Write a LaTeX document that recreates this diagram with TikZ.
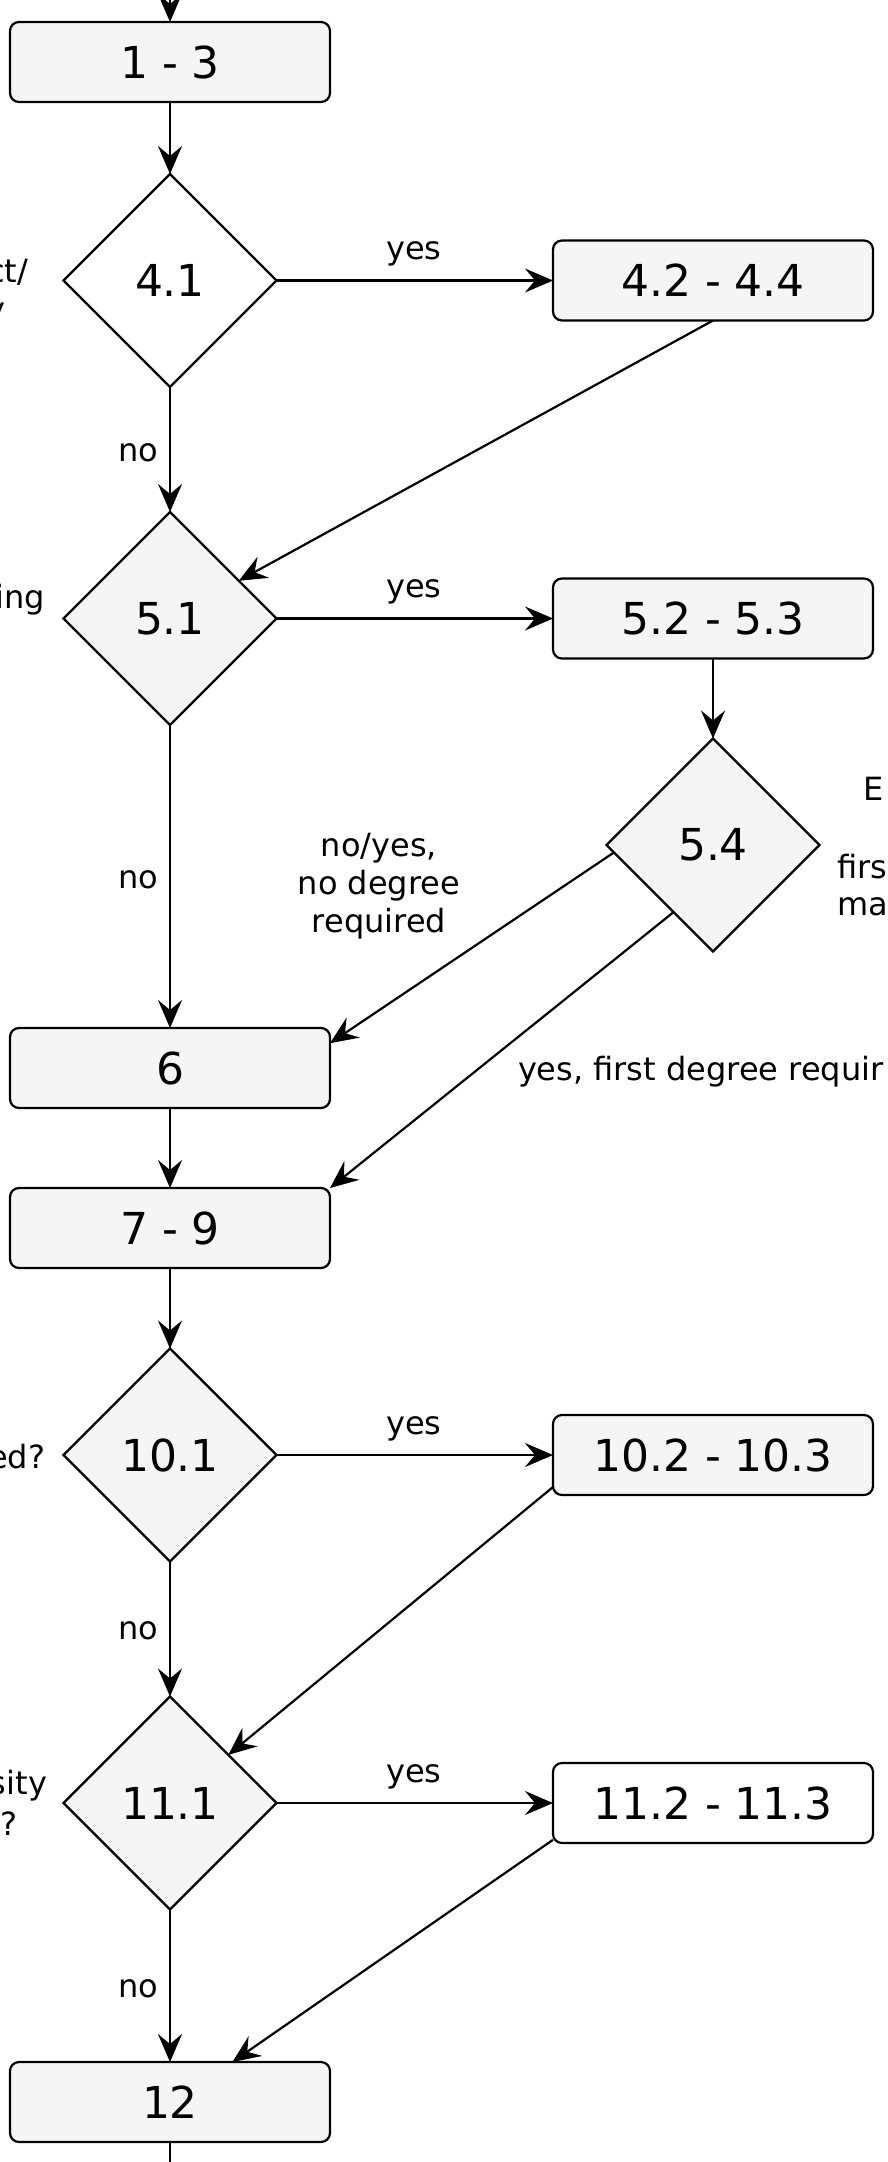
\documentclass[tikz,border=0pt]{standalone}
\usepackage{fontspec}
\setmainfont{DejaVu Sans}
\usetikzlibrary{shapes.geometric,arrows.meta,calc}
\definecolor{boxgray}{HTML}{F5F5F5}
\begin{document}
\begin{tikzpicture}[x=1pt,y=-1pt,
  every node/.style={inner sep=0pt, outer sep=0pt},
  stepbox/.style={draw, line width=2.2pt, rounded corners=9pt, fill=boxgray, minimum width=320pt, minimum height=80pt, font=\fontsize{44}{52}\selectfont},
  whitebox/.style={stepbox, fill=white},
  decision/.style={draw, line width=2.2pt, shape=diamond, aspect=1, minimum width=213pt, minimum height=213pt, fill=boxgray, font=\fontsize{44}{52}\selectfont},
  whitedecision/.style={decision, fill=white},
  conn/.style={line width=2.2pt, -{Stealth[length=28pt,width=24pt,inset=10pt]}},
  plainline/.style={line width=2.2pt},
  lbl/.style={font=\fontsize{32}{38}\selectfont},
]
\useasboundingbox (0,0) rectangle (887,2162);

% nodes
\node[stepbox] (n13) at (170,62) {1 - 3};
\node[whitedecision] (d41) at (170,280.5) {4.1};
\node[stepbox] (n42) at (713,280.5) {4.2 - 4.4};
\node[decision] (d51) at (170,618.5) {5.1};
\node[stepbox] (n52) at (713,618.5) {5.2 - 5.3};
\node[decision] (d54) at (713,845) {5.4};
\node[stepbox] (n6) at (170,1068) {6};
\node[stepbox] (n79) at (170,1228) {7 - 9};
\node[decision] (d101) at (170,1455) {10.1};
\node[stepbox] (n102) at (713,1455) {10.2 - 10.3};
\node[decision] (d111) at (170,1803) {11.1};
\node[whitebox] (n112) at (713,1803) {11.2 - 11.3};
\node[stepbox] (n12) at (170,2102) {12};

\coordinate (top) at (170,-20);
\coordinate (bot) at (170,2180);

% connectors
\draw[conn] (top) -- (n13.north);
\draw[conn] (n13.south) -- (d41.north);
\draw[conn] (d41.east) -- (n42.west);
\draw[conn] (n42.south) -- (d51);
\draw[conn] (d41.south) -- (d51.north);
\draw[conn] (d51.east) -- (n52.west);
\draw[conn] (n52.south) -- (d54.north);
\draw[conn] (d51.south) -- (n6.north);
\draw[conn] ($(d54.west)!0.07!(d54.south)$) -- ($(n6.north east)!0.19!(n6.south east)$);
\draw[conn] ($(d54.west)!0.63!(d54.south)$) -- (n79.north east);
\draw[conn] (n6.south) -- (n79.north);
\draw[conn] (n79.south) -- (d101.north);
\draw[conn] (d101.east) -- (n102.west);
\draw[conn] ($(n102.north west)!0.9!(n102.south west)$) -- (d111);
\draw[conn] (d101.south) -- (d111.north);
\draw[conn] (d111.east) -- (n112.west);
\draw[conn] ($(n112.north west)!0.96!(n112.south west)$) -- ($(n12.north west)!0.695!(n12.north east)$);
\draw[conn] (d111.south) -- (n12.north);
\draw[plainline] (n12.south) -- (bot);

% edge labels
\node[lbl, anchor=base] (y1) at (414,259.5) {yes};
\node[lbl, anchor=base] (y2) at (414,597.5) {yes};
\node[lbl, anchor=base] (y3) at (414,1434) {yes};
\node[lbl, anchor=base] (y4) at (414,1782) {yes};
\node[lbl, anchor=east] (no1) at (158,453) {no};
\node[lbl, anchor=east] (no2) at (158,880) {no};
\node[lbl, anchor=east] (no3) at (158,1631) {no};
\node[lbl, anchor=east] (no4) at (158,1988.5) {no};
\node[lbl, align=center] (l54a) at (379,886) {no/yes,\\no degree\\required};
\node[lbl, anchor=base west] (l54b) at (518,1080) {yes, first degree requir};

% cut-off side texts
\node[lbl, anchor=base east] (f1) at (28,282) {ct/};
\node[lbl, anchor=base east] (f1b) at (5,320) {y};
\node[lbl, anchor=base east] (f2) at (45,608) {ing};
\node[lbl, anchor=base east] (f3) at (45,1468) {ed?};
\node[lbl, anchor=base east] (f4) at (47,1794) {sity};
\node[lbl, anchor=base east] (f5) at (17,1835) {?};
\node[lbl, anchor=base west] (r1) at (863,800) {E};
\node[lbl, anchor=base west] (r2) at (837,878) {firs};
\node[lbl, anchor=base west] (r3) at (837,915) {ma};
\end{tikzpicture}
\end{document}
